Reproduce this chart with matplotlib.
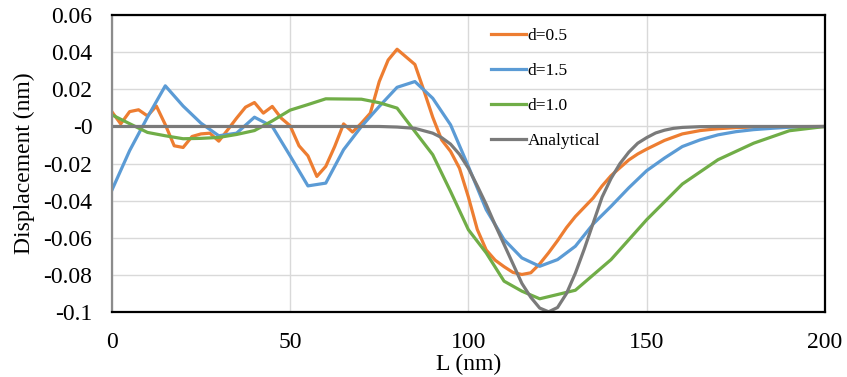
import matplotlib.pyplot as plt
from matplotlib.ticker import FuncFormatter, MultipleLocator

# d = 0.5
x_d05 = [0, 2.5, 5, 7.5, 10, 12.5, 15, 17.5, 20, 22.5, 25, 27.5, 30, 32.5, 35, 37.5,
         40, 42.5, 45, 47.5, 50, 52.5, 55, 57.5, 60, 62.5, 65, 67.5, 70, 72.5, 75, 77.5,
         80, 82.5, 85, 87.5, 90, 92.5, 95, 97.5, 100, 102.5, 105, 107.5, 110, 112.5, 115,
         117.5, 120, 122.5, 125, 127.5, 130, 132.5, 135, 137.5, 140, 142.5, 145, 147.5,
         150, 155, 160, 165, 170, 175, 180, 190, 200]
y_d05 = [0.008, 0.0014, 0.008, 0.009, 0.0057, 0.011, 0.001, -0.0104, -0.0113, -0.0054,
         -0.004, -0.0036, -0.0079, -0.0018, 0.0045, 0.0104, 0.0129, 0.0072, 0.0108, 0.0045,
         0.0004, -0.0104, -0.0158, -0.0269, -0.0215, -0.0108, 0.0014, -0.003, 0.0018, 0.0072,
         0.0242, 0.0358, 0.0416, 0.0375, 0.0334, 0.0195, 0.005, -0.0072, -0.0134, -0.0225,
         -0.038, -0.0555, -0.0665, -0.072, -0.0755, -0.0786, -0.0797, -0.0788, -0.074, -0.068,
         -0.0615, -0.0545, -0.0485, -0.0435, -0.0385, -0.032, -0.0265, -0.0222, -0.018, -0.0148,
         -0.0122, -0.0075, -0.004, -0.0022, -0.0012, -0.0006, -0.0003, -0.0001, 0.0]

# d = 1.5
x_d15 = [0, 5, 10, 15, 20, 25, 30, 35, 40, 45, 50, 55, 60, 65, 70, 75, 80, 85, 90, 95,
         100, 105, 110, 115, 120, 125, 130, 135, 140, 145, 150, 155, 160, 165, 170, 175,
         180, 185, 190, 195, 200]
y_d15 = [-0.0344, -0.013, 0.005, 0.0219, 0.011, 0.0018, -0.005, -0.0036, 0.005, 0.0,
         -0.0158, -0.032, -0.0305, -0.0125, 0.0, 0.0108, 0.0211, 0.0242, 0.0152, 0.0009,
         -0.0215, -0.0448, -0.0609, -0.0708, -0.0753, -0.0717, -0.0645, -0.0525, -0.043,
         -0.033, -0.0238, -0.017, -0.0108, -0.0072, -0.0045, -0.0028, -0.0017, -0.001,
         -0.0004, -0.0001, 0.0]

# d = 1.0
x_d10 = [0, 5, 10, 15, 20, 25, 30, 35, 40, 45, 50, 55, 60, 65, 70, 75, 80, 85, 90, 95,
         100, 105, 110, 115, 120, 125, 130, 140, 150, 160, 170, 180, 190, 200]
y_d10 = [0.0063, 0.0015, -0.0032, -0.005, -0.0066, -0.0064, -0.0059, -0.0043, -0.0022,
         0.003, 0.0088, 0.0118, 0.0149, 0.0148, 0.0147, 0.0128, 0.0099, -0.0027, -0.0152,
         -0.035, -0.0556, -0.0681, -0.0833, -0.0887, -0.0928, -0.0905, -0.0882, -0.0717,
         -0.0502, -0.031, -0.0179, -0.009, -0.0023, 0.0]

# analytical
x_an = [0, 10, 20, 30, 40, 50, 60, 70, 75, 80, 85, 90, 92.5, 95, 97.5, 100, 102.5, 105,
        107.5, 110, 112.5, 115, 117.5, 120, 122.5, 125, 127.5, 130, 132.5, 135, 137.5,
        140, 142.5, 145, 147.5, 150, 152.5, 155, 157.5, 160, 165, 170, 180, 190, 200]
y_an = [0, 0, 0, 0, 0, 0, 0, 0, 0, -0.0003, -0.001, -0.0036, -0.006, -0.0095, -0.015,
        -0.0225, -0.032, -0.042, -0.053, -0.0635, -0.074, -0.0845, -0.092, -0.0978,
        -0.0998, -0.0975, -0.09, -0.079, -0.066, -0.052, -0.038, -0.028, -0.02, -0.0138,
        -0.009, -0.006, -0.0035, -0.002, -0.001, -0.0005, -0.0001, 0, 0, 0, 0]

plt.rcParams['font.family'] = ['Liberation Serif', 'DejaVu Serif']

fig = plt.figure(figsize=(8.47, 3.77), dpi=100)
ax = fig.add_axes([0.132, 0.172, 0.842, 0.788])

lw = 2.3
ax.plot(x_d05, y_d05, color='#ED7D31', lw=lw, label='d=0.5')
ax.plot(x_d15, y_d15, color='#5B9BD5', lw=lw, label='d=1.5')
ax.plot(x_d10, y_d10, color='#70AD47', lw=lw, label='d=1.0')
ax.plot(x_an, y_an, color='#7A7A7A', lw=lw, label='Analytical')

ax.set_xlim(0, 200)
ax.set_ylim(-0.1, 0.06)
ax.xaxis.set_major_locator(MultipleLocator(50))
ax.yaxis.set_major_locator(MultipleLocator(0.02))
ax.yaxis.set_major_formatter(FuncFormatter(lambda v, p: '{:g}'.format(round(v, 4))))
ax.grid(True, color='#D9D9D9', lw=1.0)
ax.set_axisbelow(True)
ax.tick_params(length=0, labelsize=17)
ax.tick_params(axis='y', pad=14)
ax.tick_params(axis='x', pad=14)
for s in ax.spines.values():
    s.set_color('black')
    s.set_linewidth(1.6)
ax.spines['left'].set_color('#8C8C8C')

ax.set_xlabel('L (nm)', fontsize=17, labelpad=1)
ax.set_ylabel('Displacement (nm)', fontsize=17, labelpad=6)

ax.legend(loc='upper left', bbox_to_anchor=(0.51, 1.01), frameon=False, fontsize=12.5,
          handlelength=2.0, handletextpad=0.1, labelspacing=1.08)

fig.savefig('out.png', dpi=100)
